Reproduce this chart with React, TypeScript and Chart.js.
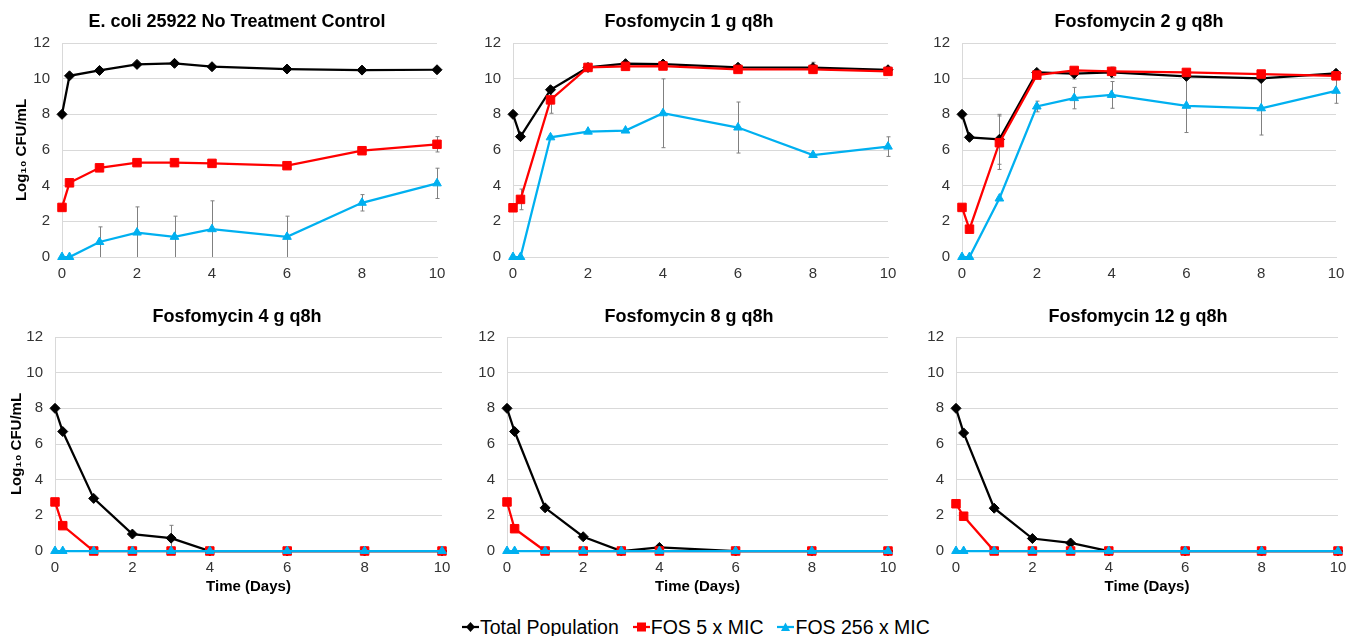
import React, { useEffect, useRef } from "react";
import { Chart, registerables } from "chart.js";

Chart.register(...registerables);

// ---------- data ----------
const TIME_DAYS = [0, 0.2, 1, 2, 3, 4, 6, 8, 10];
const X_TICKS = [0, 2, 4, 6, 8, 10];
const Y_TICKS = [0, 2, 4, 6, 8, 10, 12];
const SERIES_NAMES = ["Total Population", "FOS 5 x MIC", "FOS 256 x MIC"];
const PANEL_TITLES = [
  "E. coli 25922 No Treatment Control",
  "Fosfomycin 1 g q8h",
  "Fosfomycin 2 g q8h",
  "Fosfomycin 4 g q8h",
  "Fosfomycin 8 g q8h",
  "Fosfomycin 12 g q8h",
];
const Y_TITLE = "Log\u2081\u2080 CFU/mL";
const X_TITLE = "Time (Days)";

// No treatment control
const CTRL_TOTAL = [8.0, 10.16, 10.46, 10.8, 10.86, 10.67, 10.54, 10.48, 10.5];
const CTRL_FOS5 = [2.78, 4.16, 5.0, 5.29, 5.29, 5.25, 5.12, 5.96, 6.32];
const CTRL_FOS256 = [0, 0, 0.84, 1.37, 1.13, 1.56, 1.13, 3.04, 4.13];
const CTRL_TOTAL_ERR = [0, 0, 0, 0, 0, 0, 0, 0, 0];
const CTRL_FOS5_ERR = [0, 0, 0, 0, 0, 0, 0, 0, 0.43];
const CTRL_FOS256_ERR = [0, 0, 0.85, 1.44, 1.16, 1.59, 1.16, 0.46, 0.85];

// Fosfomycin 1 g q8h
const FOS1_TOTAL = [8.0, 6.75, 9.38, 10.63, 10.84, 10.82, 10.64, 10.62, 10.5];
const FOS1_FOS5 = [2.76, 3.23, 8.81, 10.63, 10.69, 10.71, 10.52, 10.52, 10.41];
const FOS1_FOS256 = [0, 0, 6.71, 7.03, 7.09, 8.06, 7.26, 5.72, 6.19];
const FOS1_TOTAL_ERR = [0, 0, 0, 0, 0, 0, 0, 0.3, 0];
const FOS1_FOS5_ERR = [0, 0.58, 0.75, 0, 0, 0, 0, 0, 0];
const FOS1_FOS256_ERR = [0, 0, 0, 0, 0, 1.93, 1.43, 0, 0.55];

// Fosfomycin 2 g q8h
const FOS2_TOTAL = [8.0, 6.71, 6.6, 10.35, 10.28, 10.35, 10.13, 10.01, 10.3];
const FOS2_FOS5 = [2.78, 1.56, 6.41, 10.2, 10.46, 10.41, 10.35, 10.26, 10.16];
const FOS2_FOS256 = [0, 0, 3.28, 8.44, 8.91, 9.09, 8.48, 8.34, 9.32];
const FOS2_TOTAL_ERR = [0, 0, 1.4, 0, 0.3, 0.3, 0, 0, 0];
const FOS2_FOS5_ERR = [0, 0, 1.5, 0, 0, 0, 0, 0, 0];
const FOS2_FOS256_ERR = [0, 0, 0, 0.3, 0.6, 0.75, 1.5, 1.5, 0.7];

// Fosfomycin 4 g q8h
const FOS4_TOTAL = [8.0, 6.7, 2.95, 0.95, 0.72, 0, 0, 0, 0];
const FOS4_FOS5 = [2.75, 1.42, 0, 0, 0, 0, 0, 0, 0];
const FOS4_FOS256 = [0, 0, 0, 0, 0, 0, 0, 0, 0];
const FOS4_TOTAL_ERR = [0, 0, 0, 0, 0.72, 0, 0, 0, 0];

// Fosfomycin 8 g q8h
const FOS8_TOTAL = [8.0, 6.7, 2.42, 0.8, 0, 0.2, 0, 0, 0];
const FOS8_FOS5 = [2.75, 1.25, 0, 0, 0, 0, 0, 0, 0];
const FOS8_FOS256 = [0, 0, 0, 0, 0, 0, 0, 0, 0];

// Fosfomycin 12 g q8h
const FOS12_TOTAL = [8.0, 6.62, 2.4, 0.7, 0.45, 0, 0, 0, 0];
const FOS12_FOS5 = [2.65, 1.95, 0, 0, 0, 0, 0, 0, 0];
const FOS12_FOS256 = [0, 0, 0, 0, 0, 0, 0, 0, 0];

const NO_ERR = [0, 0, 0, 0, 0, 0, 0, 0, 0];

const PANEL_SERIES = [
  [CTRL_TOTAL, CTRL_FOS5, CTRL_FOS256],
  [FOS1_TOTAL, FOS1_FOS5, FOS1_FOS256],
  [FOS2_TOTAL, FOS2_FOS5, FOS2_FOS256],
  [FOS4_TOTAL, FOS4_FOS5, FOS4_FOS256],
  [FOS8_TOTAL, FOS8_FOS5, FOS8_FOS256],
  [FOS12_TOTAL, FOS12_FOS5, FOS12_FOS256],
];
const PANEL_ERRORS = [
  [CTRL_TOTAL_ERR, CTRL_FOS5_ERR, CTRL_FOS256_ERR],
  [FOS1_TOTAL_ERR, FOS1_FOS5_ERR, FOS1_FOS256_ERR],
  [FOS2_TOTAL_ERR, FOS2_FOS5_ERR, FOS2_FOS256_ERR],
  [FOS4_TOTAL_ERR, NO_ERR, NO_ERR],
  [NO_ERR, NO_ERR, NO_ERR],
  [NO_ERR, NO_ERR, NO_ERR],
];

// ---------- styling / layout ----------
const FONT = '"Liberation Sans", Arial, Helvetica, sans-serif';
const COLORS = ["#000000", "#FF0000", "#00B0F0"];
const POINT_STYLES = ["rectRot", "rect", "triangle"];
const POINT_RADII = [5, 6, 5];
const DRAW_ORDER = [2, 1, 0];

type Layout = {
  left: number; top: number; width: number; height: number;
  x0: number; x1: number; y0: number; y1: number;
  tcx: number; tcy: number;
  yTitle: boolean; xTitle: boolean; yTitlePad: number;
};

const LAYOUTS: Layout[] = [
  { left: 0, top: 0, width: 450, height: 295, x0: 62, x1: 437, y0: 43, y1: 257, tcx: 237, tcy: 21, yTitle: true, xTitle: false, yTitlePad: 13 },
  { left: 450, top: 0, width: 450, height: 295, x0: 513, x1: 888, y0: 43, y1: 257, tcx: 689, tcy: 21, yTitle: false, xTitle: false, yTitlePad: 0 },
  { left: 900, top: 0, width: 460, height: 295, x0: 962, x1: 1336, y0: 43, y1: 257, tcx: 1139, tcy: 21, yTitle: false, xTitle: false, yTitlePad: 0 },
  { left: 0, top: 300, width: 450, height: 300, x0: 55, x1: 442, y0: 337, y1: 551, tcx: 237, tcy: 316, yTitle: true, xTitle: true, yTitlePad: 8 },
  { left: 450, top: 300, width: 450, height: 300, x0: 507, x1: 888, y0: 337, y1: 551, tcx: 689, tcy: 316, yTitle: false, xTitle: true, yTitlePad: 0 },
  { left: 900, top: 300, width: 460, height: 300, x0: 956, x1: 1338, y0: 337, y1: 551, tcx: 1138, tcy: 316, yTitle: false, xTitle: true, yTitlePad: 0 },
];

const errorBarPlugin = {
  id: "errorBars",
  beforeDatasetsDraw(chart: any) {
    const { ctx, chartArea, scales } = chart;
    const ys = scales.y;
    ctx.save();
    ctx.strokeStyle = "#808080";
    ctx.lineWidth = 1;
    chart.data.datasets.forEach((ds: any, i: number) => {
      const errs: number[] | undefined = ds.errors;
      if (!errs) return;
      const meta = chart.getDatasetMeta(i);
      meta.data.forEach((pt: any, j: number) => {
        const e = errs[j];
        if (!e) return;
        const v = ds.data[j].y;
        const rawTop = ys.getPixelForValue(v + e);
        const rawBot = ys.getPixelForValue(v - e);
        const top = Math.max(chartArea.top, rawTop);
        const bot = Math.min(chartArea.bottom, rawBot);
        const x = Math.round(pt.x) + 0.5;
        ctx.beginPath();
        ctx.moveTo(x, top);
        ctx.lineTo(x, bot);
        if (rawTop >= chartArea.top) {
          ctx.moveTo(x - 2, top);
          ctx.lineTo(x + 2, top);
        }
        if (rawBot <= chartArea.bottom) {
          ctx.moveTo(x - 2, bot);
          ctx.lineTo(x + 2, bot);
        }
        ctx.stroke();
      });
    });
    ctx.restore();
  },
};

function Panel({ index }: { index: number }) {
  const ref = useRef<HTMLCanvasElement | null>(null);
  const L = LAYOUTS[index];

  useEffect(() => {
    if (!ref.current) return;
    const yAxisWidth = L.x0 - L.left;
    const xAxisHeight = L.top + L.height - L.y1;
    const padTop = L.y0 - L.top;
    const padRight = L.left + L.width - L.x1;

    const datasets = PANEL_SERIES[index].map((vals, s) => ({
      label: SERIES_NAMES[s],
      data: TIME_DAYS.map((t, k) => ({ x: t, y: vals[k] })),
      errors: PANEL_ERRORS[index][s],
      borderColor: COLORS[s],
      backgroundColor: COLORS[s],
      pointBackgroundColor: COLORS[s],
      pointBorderColor: COLORS[s],
      pointStyle: POINT_STYLES[s],
      pointRadius: POINT_RADII[s],
      pointBorderWidth: 1,
      borderWidth: 2.25,
      tension: 0,
      clip: false as any,
      order: DRAW_ORDER[s],
    }));

    const chart = new Chart(ref.current, {
      type: "line",
      data: { datasets: datasets as any },
      plugins: [errorBarPlugin],
      options: {
        animation: false,
        responsive: false,
        devicePixelRatio: 1,
        layout: { padding: { top: padTop, right: padRight, left: 0, bottom: 0 } },
        plugins: {
          legend: { display: false },
          title: { display: false },
          tooltip: { enabled: false },
        },
        scales: {
          x: {
            type: "linear",
            min: 0,
            max: 10,
            afterBuildTicks: (scale: any) => {
              scale.ticks = X_TICKS.map((v) => ({ value: v }));
            },
            afterFit: (scale: any) => {
              scale.height = xAxisHeight;
              scale.paddingLeft = 0;
              scale.paddingRight = 0;
            },
            grid: { display: false, drawTicks: false },
            border: { display: true, color: "#d9d9d9", width: 1 },
            ticks: {
              padding: 8,
              color: "#333333",
              font: { family: FONT, size: 15 },
              maxRotation: 0,
              autoSkip: false,
            },
            title: {
              display: L.xTitle,
              text: X_TITLE,
              color: "#000000",
              font: { family: FONT, size: 15, weight: "bold" },
              padding: { top: 0, bottom: 4 },
            },
          },
          y: {
            type: "linear",
            min: 0,
            max: 12,
            afterBuildTicks: (scale: any) => {
              scale.ticks = Y_TICKS.map((v) => ({ value: v }));
            },
            afterFit: (scale: any) => {
              scale.width = yAxisWidth;
              scale.paddingTop = 0;
              scale.paddingBottom = 0;
            },
            grid: { display: true, color: "#d9d9d9", lineWidth: 1, drawTicks: false },
            border: { display: true, color: "#d9d9d9", width: 1 },
            ticks: {
              padding: 12,
              color: "#333333",
              font: { family: FONT, size: 15 },
              autoSkip: false,
            },
            title: {
              display: L.yTitle,
              text: Y_TITLE,
              color: "#000000",
              font: { family: FONT, size: 15, weight: "bold" },
              padding: { top: L.yTitlePad, bottom: 0 },
            },
          },
        },
      } as any,
    });
    return () => chart.destroy();
  }, [index]);

  return (
    <>
      <canvas
        ref={ref}
        width={L.width}
        height={L.height}
        style={{ position: "absolute", left: L.left, top: L.top, width: L.width, height: L.height }}
      />
      <div
        style={{
          position: "absolute",
          left: L.tcx - 200,
          width: 400,
          top: L.tcy - 11,
          height: 22,
          lineHeight: "22px",
          textAlign: "center",
          fontFamily: FONT,
          fontWeight: "bold",
          fontSize: 18,
          color: "#000",
          whiteSpace: "nowrap",
        }}
      >
        {PANEL_TITLES[index]}
      </div>
    </>
  );
}

function LegendMarker({ s }: { s: number }) {
  const c = COLORS[s];
  let shape: React.ReactNode = null;
  if (s === 0) shape = <polygon points="8.5,1 13,6 8.5,11 4,6" fill={c} />;
  else if (s === 1) shape = <rect x={4} y={1.5} width={9} height={9} fill={c} />;
  else shape = <polygon points="8.5,1.5 13,10 4,10" fill={c} />;
  return (
    <svg width={17} height={12} style={{ display: "block", marginRight: 1 }}>
      <line x1={0} y1={6} x2={17} y2={6} stroke={c} strokeWidth={2.25} />
      {shape}
    </svg>
  );
}

export default function App() {
  return (
    <div
      style={{
        position: "absolute",
        left: 0,
        top: 0,
        width: 1360,
        height: 636,
        background: "#ffffff",
        overflow: "hidden",
      }}
    >
      {LAYOUTS.map((_, i) => (
        <Panel key={i} index={i} />
      ))}
      <div
        style={{
          position: "absolute",
          left: 462,
          top: 615,
          height: 24,
          display: "flex",
          alignItems: "center",
          fontFamily: FONT,
          fontSize: 19.5,
          lineHeight: "24px",
          color: "#000",
          whiteSpace: "nowrap",
        }}
      >
        {SERIES_NAMES.map((name, s) => (
          <div key={s} style={{ display: "flex", alignItems: "center", marginRight: 14 }}>
            <LegendMarker s={s} />
            <span>{name}</span>
          </div>
        ))}
      </div>
    </div>
  );
}
